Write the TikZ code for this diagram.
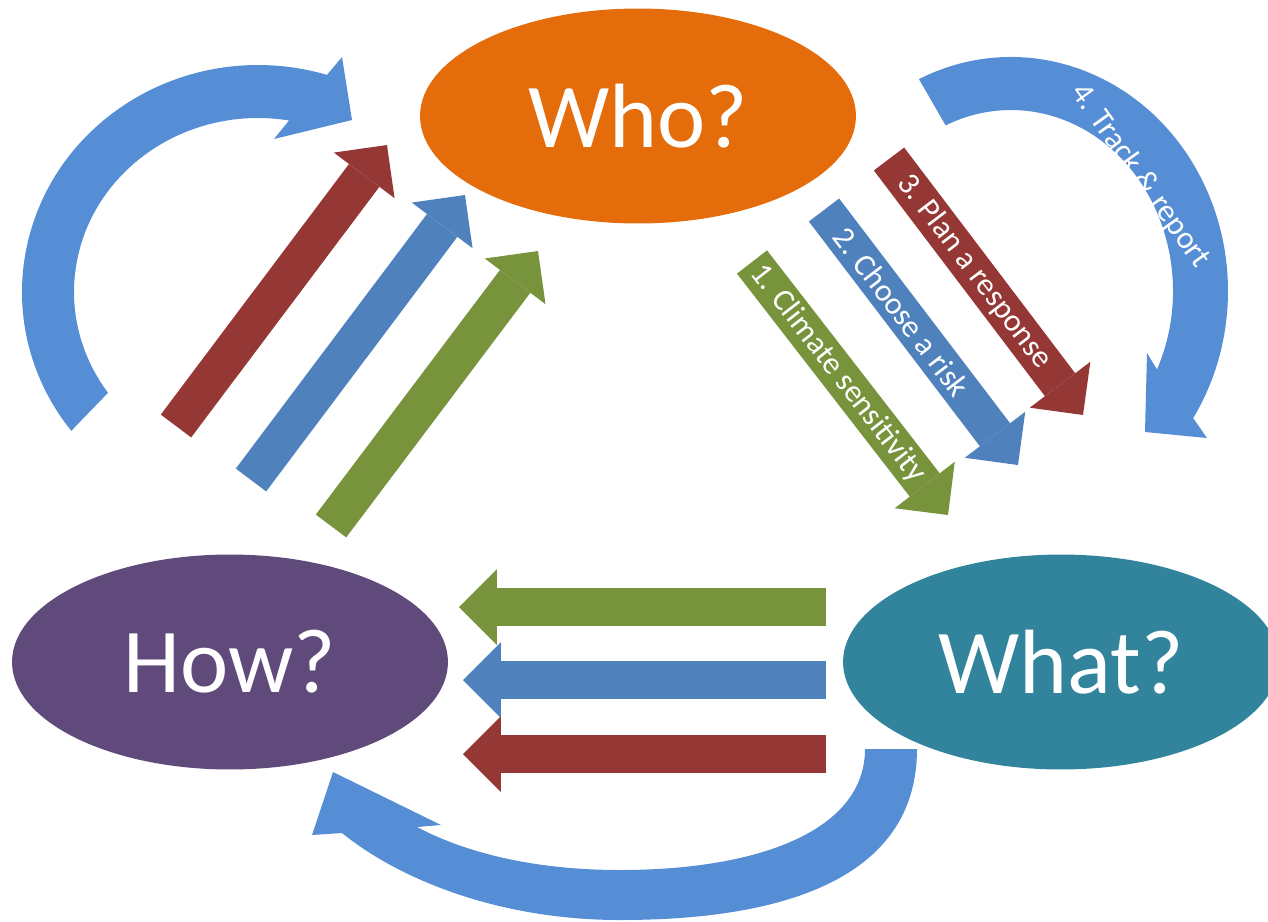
\documentclass[tikz,border=0pt]{standalone}
\usepackage{fontspec}
\setmainfont{Carlito}
\usetikzlibrary{shapes.geometric,arrows.meta}

\definecolor{whoorange}{HTML}{E46C0A}
\definecolor{howpurple}{HTML}{604A7B}
\definecolor{whatteal}{HTML}{31849B}
\definecolor{stepred}{HTML}{953735}
\definecolor{stepblue}{HTML}{4F81BD}
\definecolor{stepgreen}{HTML}{77933C}
\definecolor{loopblue}{HTML}{558ED5}

\begin{document}
\begin{tikzpicture}[x=0.02cm, y=-0.02cm,
    main node/.style={ellipse, inner sep=0pt, minimum width=8.72cm, minimum height=4.3cm,
                      text=white, font=\fontsize{52}{60}\selectfont},
    bar/.style={line width=0.76cm, -{Triangle[length=0.76cm, width=1.52cm, line width=0pt]}},
    bar text/.style={sloped, text=white, inner sep=0pt, font=\fontsize{18}{22}\selectfont}]

  \useasboundingbox (0,0) rectangle (1268,921);

  \node[main node, fill=whoorange] (who) at (638,116) {Who?};
  \node[main node, fill=howpurple] (how) at (230,662) {How?};
  \node[main node, fill=whatteal] (what) at (1061,662) {What?};

  % curved arrows
  \fill[loopblue] ([shift={(258,292)}]142.3:236 and 227)
      arc[start angle=142.3, end angle=287, x radius=236, y radius=227]
      -- (342,57) -- (352,120) -- (274,139)
      -- ([shift={(258,292)}]279.7:184 and 174)
      arc[start angle=279.7, end angle=144.6, x radius=184, y radius=174] -- cycle;

  \fill[loopblue] ([shift={(1011,291)}]-115.1:217 and 234)
      arc[start angle=-115.1, end angle=32.9, x radius=217, y radius=234]
      -- (1207,438) -- (1145,432) -- (1147,353)
      -- ([shift={(1011,291)}]25.7:162 and 181)
      arc[start angle=25.7, end angle=-113.8, x radius=162, y radius=181] -- cycle;

  \fill[loopblue] (917,749) .. controls (917,870) and (800,920) .. (620,920)
      .. controls (500,920) and (400,880) .. (342,833)
      -- (312,835) -- (333,772) -- (441,825) -- (417,827)
      .. controls (470,855) and (540,870) .. (620,870)
      .. controls (760,870) and (865,830) .. (865,749) -- cycle;

  \node[rotate=-54.5, text=white, font=\fontsize{18}{22}\selectfont] (track) at (1140,176) {4. Track \& report};

  % straight arrows, tail and tip
  \coordinate (hr0) at (176,426);  \coordinate (hr1) at (387,145);
  \coordinate (hb0) at (251,480);  \coordinate (hb1) at (465,195);
  \coordinate (hg0) at (331,526);  \coordinate (hg1) at (538,251);
  \coordinate (wg0) at (752,262);  \coordinate (wg1) at (948,515);
  \coordinate (wb0) at (824,210);  \coordinate (wb1) at (1018,465);
  \coordinate (wr0) at (889,159);  \coordinate (wr1) at (1083,415);
  \coordinate (tg0) at (826,607);  \coordinate (tg1) at (459,607);
  \coordinate (tb0) at (826,680);  \coordinate (tb1) at (463,680);
  \coordinate (tr0) at (826,754);  \coordinate (tr1) at (463,754);

  \path[bar]
    (hr0) edge[stepred] (hr1)
    (hb0) edge[stepblue] (hb1)
    (hg0) edge[stepgreen] (hg1)
    (wg0) edge[stepgreen] node[bar text, pos=0.44] {1. Climate sensitivity} (wg1)
    (wb0) edge[stepblue] node[bar text, pos=0.40] {2. Choose a risk} (wb1)
    (wr0) edge[stepred] node[bar text, pos=0.44] {3. Plan a response} (wr1)
    (tg0) edge[stepgreen] (tg1)
    (tb0) edge[stepblue] (tb1)
    (tr0) edge[stepred] (tr1);
\end{tikzpicture}
\end{document}
